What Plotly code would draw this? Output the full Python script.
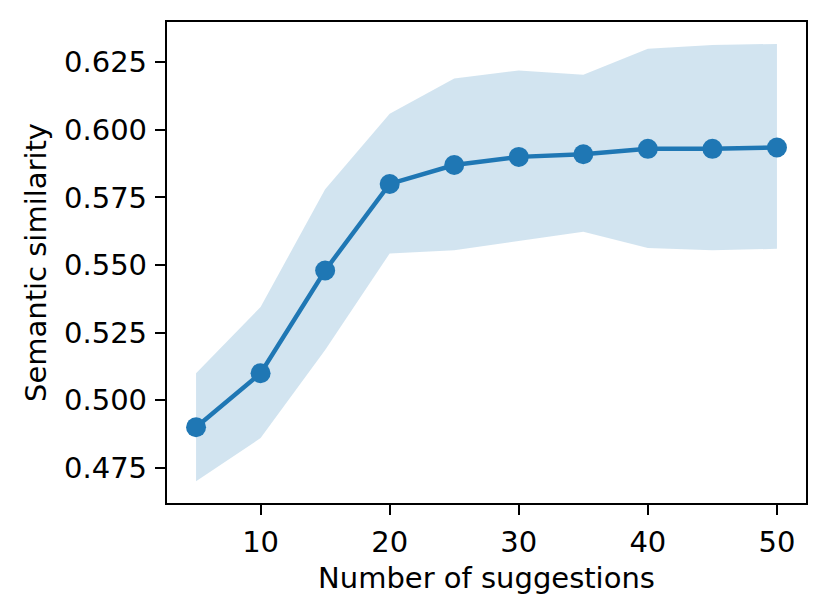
import plotly.graph_objects as go

# values
n_suggestions = [5, 10, 15, 20, 25, 30, 35, 40, 45, 50]
similarity = [0.490, 0.510, 0.548, 0.580, 0.587, 0.590, 0.591, 0.593, 0.593, 0.5935]
band_upper = [0.510, 0.5345, 0.578, 0.606, 0.619, 0.622, 0.6204, 0.630, 0.6314, 0.6318]
band_lower = [0.470, 0.486, 0.5186, 0.5543, 0.5555, 0.5588, 0.5623, 0.5563, 0.5555, 0.556]

C0 = '#1f77b4'
font_family = 'DejaVu Sans'
font_size = 29

fig = go.Figure()

# shaded band (lower edge first, then fill up to upper edge)
fig.add_trace(go.Scatter(
    x=n_suggestions, y=band_lower,
    mode='lines', line=dict(width=0, color='rgba(31,119,180,0)'),
    showlegend=False, hoverinfo='skip'
))
fig.add_trace(go.Scatter(
    x=n_suggestions, y=band_upper,
    mode='lines', line=dict(width=0, color='rgba(31,119,180,0)'),
    fill='tonexty', fillcolor='rgba(31,119,180,0.2)',
    showlegend=False, hoverinfo='skip'
))

# mean line with markers
fig.add_trace(go.Scatter(
    x=n_suggestions, y=similarity,
    mode='lines+markers',
    line=dict(color=C0, width=4.4),
    marker=dict(color=C0, size=20),
    showlegend=False
))

axis_common = dict(
    showgrid=False,
    zeroline=False,
    showline=True,
    linecolor='black',
    linewidth=2.3,
    mirror=True,
    ticks='outside',
    ticklen=10,
    tickwidth=2.3,
    tickcolor='black',
    tickfont=dict(family=font_family, size=font_size, color='black'),
)

fig.update_xaxes(
    range=[2.75, 52.25],
    tick0=0, dtick=10,
    ticklabelstandoff=2,
    title=dict(text='Number of suggestions', font=dict(family=font_family, size=font_size, color='black'), standoff=10),
    **axis_common
)
fig.update_yaxes(
    range=[0.4620, 0.6399],
    tick0=0.475, dtick=0.025,
    tickformat='.3f',
    ticklabelstandoff=2,
    title=dict(text='Semantic similarity', font=dict(family=font_family, size=font_size, color='black'), standoff=9),
    **axis_common
)

# the page body adds 8px around the plot, so margins are shifted by that
fig.update_layout(
    width=829,
    height=615,
    margin=dict(l=159, r=31, t=14, b=120),
    paper_bgcolor='white',
    plot_bgcolor='white',
    font=dict(family=font_family, color='black'),
)

fig.write_html("out.html")
